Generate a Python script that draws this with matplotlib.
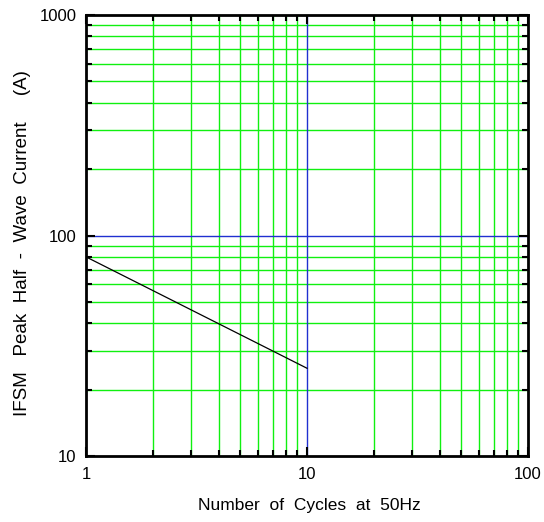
import numpy as np
import matplotlib.pyplot as plt
from matplotlib.ticker import NullFormatter, FixedLocator

plt.rcParams['font.family'] = ['Liberation Sans', 'DejaVu Sans']

cycles = [1, 10]
current = [80, 25]

W, H = 544, 522
fig = plt.figure(figsize=(W / 100, H / 100), dpi=100)
ax = fig.add_axes([86 / W, 1 - 456 / H, 442 / W, 441 / H])

ax.set_xscale("log")
ax.set_yscale("log")
ax.set_xlim(1, 100)
ax.set_ylim(10, 1000)

# グリッド (minor: 緑, major: 青)
minor_x = [m * d for d in (1, 10) for m in range(2, 10)]
minor_y = [m * d for d in (10, 100) for m in range(2, 10)]
for v in minor_x:
    ax.axvline(v, color="#10f010", lw=1, zorder=1)
for v in minor_y:
    ax.axhline(v, color="#10f010", lw=1, zorder=1)
ax.axvline(10, color="#2030d0", lw=1, zorder=1)
ax.axhline(100, color="#2030d0", lw=1, zorder=1)

ax.plot(cycles, current, color="black", lw=0.9, zorder=3)

ax.xaxis.set_major_locator(FixedLocator([1, 10, 100]))
ax.yaxis.set_major_locator(FixedLocator([10, 100, 1000]))
ax.xaxis.set_minor_locator(FixedLocator(minor_x))
ax.yaxis.set_minor_locator(FixedLocator(minor_y))
ax.xaxis.set_major_formatter(plt.FuncFormatter(lambda v, p: "%g" % v))
ax.yaxis.set_major_formatter(plt.FuncFormatter(lambda v, p: "%g" % v))
ax.xaxis.set_minor_formatter(NullFormatter())
ax.yaxis.set_minor_formatter(NullFormatter())

ax.tick_params(which="both", direction="in", top=True, right=True,
               labelsize=12, width=1.5, color="black")
ax.tick_params(which="major", length=6.5, pad=7)
ax.tick_params(which="minor", length=4)
ax.tick_params(axis="x", which="major", pad=8)

for s in ax.spines.values():
    s.set_linewidth(2)
    s.set_zorder(4)

fig.text(309 / W, 1 - 510 / H, "Number  of  Cycles  at  50Hz", fontsize=12.5,
         ha="center", va="baseline")
fig.text(23 / W, 1 - 243 / H, "IFSM   Peak  Half  -  Wave  Current     (A)",
         fontsize=13.5, rotation=90, ha="center", va="center")

plt.savefig("out.png", dpi=100)
